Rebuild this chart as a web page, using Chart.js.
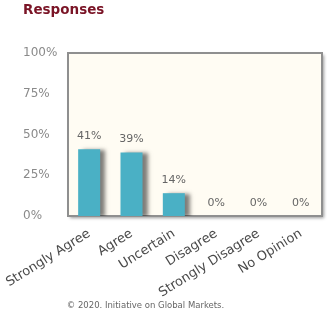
<!DOCTYPE html>
<html>
<head>
<meta charset="utf-8">
<script src="https://cdn.jsdelivr.net/npm/chart.js@4"></script>
<style>
  body { margin: 0; background: #fff; }
  #wrap { position: relative; width: 327px; height: 311px; }
  #title { position: absolute; left: 23px; top: 1px; font: bold 13.5px "DejaVu Sans", sans-serif; color: #7a1426; }
  #foot { position: absolute; left: 0; width: 291px; top: 300px; text-align: center; font: 8.5px "DejaVu Sans", sans-serif; color: #666; }
</style>
</head>
<body>
<div id="wrap">
  <canvas id="chart" width="327" height="311"></canvas>
  <div id="title">Responses</div>
  <div id="foot">© 2020. Initiative on Global Markets.</div>
</div>
<script>
const categories = ["Strongly Agree", "Agree", "Uncertain", "Disagree", "Strongly Disagree", "No Opinion"];
const responses = [41, 39, 14, 0, 0, 0];
const yTicks = [0, 25, 50, 75, 100];

const ctx = document.getElementById("chart").getContext("2d");

// cream plot box with grey border and drop shadow, plus bar shadows and value labels
const plotBox = {
  id: "plotBox",
  beforeDatasetsDraw(chart) {
    const { ctx, chartArea: a } = chart;
    ctx.save();
    ctx.shadowColor = "rgba(0,0,0,0.4)";
    ctx.shadowOffsetX = 2;
    ctx.shadowOffsetY = 2;
    ctx.shadowBlur = 3;
    ctx.fillStyle = "#fffcf3";
    ctx.fillRect(a.left, a.top, a.right - a.left, a.bottom - a.top);
    ctx.restore();
    ctx.save();
    ctx.strokeStyle = "#8f8f8f";
    ctx.lineWidth = 2;
    ctx.strokeRect(a.left, a.top, a.right - a.left, a.bottom - a.top);
    ctx.restore();
    ctx.save();
    ctx.shadowColor = "rgba(0,0,0,0.5)";
    ctx.shadowOffsetX = 5;
    ctx.shadowOffsetY = 1;
    ctx.shadowBlur = 4;
  },
  afterDatasetsDraw(chart) {
    const { ctx } = chart;
    ctx.restore();
    const meta = chart.getDatasetMeta(0);
    ctx.save();
    ctx.font = "11px 'DejaVu Sans', sans-serif";
    ctx.fillStyle = "#666";
    ctx.textAlign = "center";
    ctx.textBaseline = "alphabetic";
    meta.data.forEach((bar, i) => {
      ctx.fillText(responses[i] + "%", bar.x, bar.y - 10);
    });
    ctx.restore();
  }
};

new Chart(ctx, {
  type: "bar",
  data: {
    labels: categories,
    datasets: [{
      data: responses,
      backgroundColor: "#4ab0c5",
      categoryPercentage: 1,
      barPercentage: 0.52
    }]
  },
  options: {
    responsive: false,
    animation: false,
    layout: { padding: { left: 23, top: 53, right: 5, bottom: 0 } },
    plugins: { legend: { display: false }, tooltip: { enabled: false } },
    scales: {
      y: {
        min: 0,
        max: 100,
        afterBuildTicks(scale) { scale.ticks = yTicks.map(v => ({ value: v })); },
        afterFit(scale) { scale.width = 45; },
        grid: { display: false, drawTicks: false },
        border: { display: false },
        ticks: {
          crossAlign: "far",
          color: "#8a8a8a",
          font: { family: "DejaVu Sans", size: 12 },
          callback: v => v + "%"
        }
      },
      x: {
        afterFit(scale) {
          scale.height = 95;
          scale.paddingLeft = 0;
          scale.paddingRight = 0;
        },
        grid: { display: false, drawTicks: false },
        border: { display: false },
        ticks: {
          minRotation: 32,
          maxRotation: 32,
          padding: 10,
          color: "#4a4a4a",
          font: { family: "DejaVu Sans", size: 13 }
        }
      }
    }
  },
  plugins: [plotBox]
});
</script>
</body>
</html>
